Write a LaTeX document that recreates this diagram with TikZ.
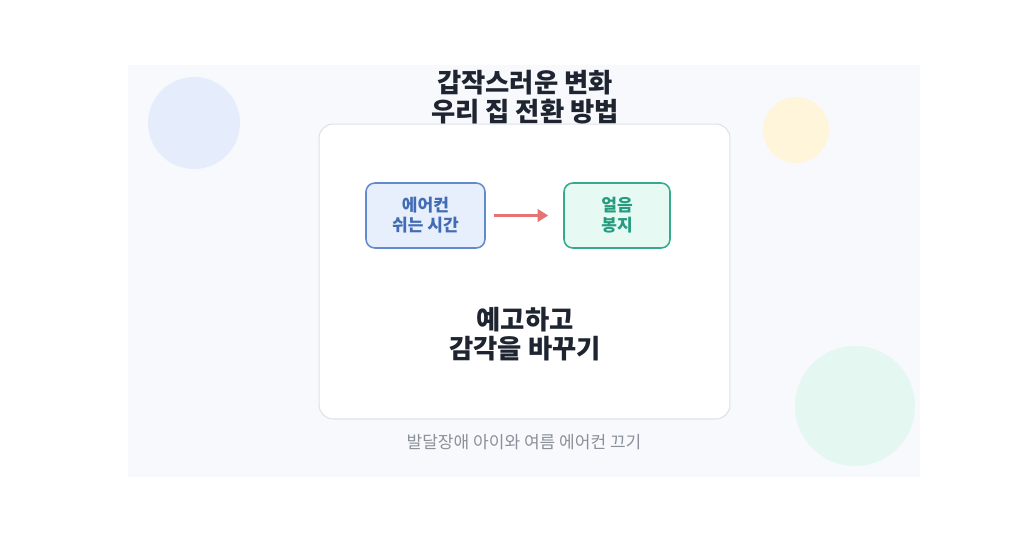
\documentclass[tikz,border=0pt]{standalone}
\usepackage{fontspec}
\setmainfont{Noto Sans CJK KR}
\usetikzlibrary{arrows.meta, positioning}

\definecolor{panelbg}{HTML}{F7F9FC}
\definecolor{cardline}{HTML}{DDE2E8}
\definecolor{blobblue}{HTML}{E5EDFC}
\definecolor{blobyellow}{HTML}{FEF5DA}
\definecolor{blobteal}{HTML}{E4F7F0}
\definecolor{acfill}{HTML}{E7EEFC}
\definecolor{acline}{HTML}{628BCD}
\definecolor{actext}{HTML}{416CB5}
\definecolor{icefill}{HTML}{E6FAF3}
\definecolor{iceline}{HTML}{36A98E}
\definecolor{icetext}{HTML}{259C80}
\definecolor{arrowred}{HTML}{E57373}
\definecolor{headtext}{HTML}{1E2430}
\definecolor{captext}{HTML}{8A9099}

\begin{document}
\begin{tikzpicture}[x=0.02cm, y=-0.02cm,
      headline/.style={align=center, font=\fontsize{15pt}{16.6pt}\selectfont\bfseries, text=headtext},
      acbox/.style={rectangle, draw=acline, line width=0.9pt, fill=acfill, rounded corners=5pt, minimum width=2.38cm, minimum height=1.3cm, align=center, font=\fontsize{9.7pt}{11.3pt}\selectfont\bfseries, text=actext},
      icebox/.style={rectangle, draw=iceline, line width=0.9pt, fill=icefill, rounded corners=5pt, minimum width=2.12cm, minimum height=1.3cm, align=center, font=\fontsize{9.7pt}{11.3pt}\selectfont\bfseries, text=icetext},
      caption/.style={font=\fontsize{9.7pt}{11pt}\selectfont, text=captext}]

      \useasboundingbox (0,0) rectangle (1024,538);

      % Background
      \fill[white] (0,0) rectangle (1024,538);
      \fill[panelbg] (128,65) rectangle (920,477);
      \fill[blobblue] (194,123) circle (46);
      \fill[blobyellow] (796,130) circle (33);
      \fill[blobteal] (855,406) circle (60);

      % Card
      \node[rectangle, draw=cardline, line width=0.6pt, fill=white, rounded corners=8pt, minimum width=8.22cm, minimum height=5.9cm] (card) at (524.5,271.5) {};

      \node[headline] (title) at (525,97) {갑작스러운 변화\\우리 집 전환 방법};

      \node[acbox] (ac) at (425.5,215.5) {에어컨\\쉬는 시간};
      \node[icebox] (ice) at (617,215.5) {얼음\\봉지};

      % Arrows
      \draw[-{Triangle[length=6pt, width=7pt]}, arrowred, line width=1.6pt, shorten <=0.16cm, shorten >=0.3cm] (ac.east) -- (ice.west);

      \node[headline] (msg) at (525,334) {예고하고\\감각을 바꾸기};

      \node[caption] (cap) at (524,442) {발달장애 아이와 여름 에어컨 끄기};
    \end{tikzpicture}
\end{document}
